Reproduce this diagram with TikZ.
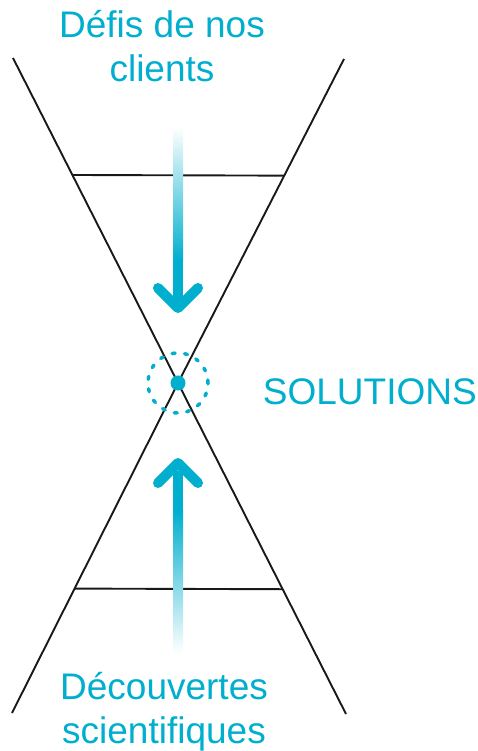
\documentclass[tikz,border=0pt]{standalone}
\usepackage{fontspec}
\setmainfont{Liberation Sans}
\usepackage{xcolor}
\usepackage{tikz}
\usetikzlibrary{calc, positioning}
\definecolor{SciCyan}{RGB}{0, 174, 206}

\begin{document}
\begin{tikzpicture}[
        x=1pt, y=1pt,
        cone/.style = {draw, line width=1.9pt, black!90},
        title/.style = {text=SciCyan, font=\fontsize{37}{44}\selectfont, align=center, inner sep=0pt},
        shaft/.style = {top color=white, bottom color=SciCyan, draw=none},
        chevron/.style = {draw=SciCyan, line width=10pt, line cap=round, line join=round},
        ring/.style = {draw=SciCyan, line width=3.5pt, dash pattern=on 3pt off 9.5pt, line cap=round},
        hub/.style = {circle, fill=SciCyan, minimum size=15pt, inner sep=0pt}
    ]
        \useasboundingbox (0,0) rectangle (477,751);

        % Hourglass
        \coordinate (c) at (178,368);
        \coordinate (tl) at (13,693);
        \coordinate (tr) at (344,692);
        \coordinate (bl) at (12,38);
        \coordinate (br) at (346,37);
        \draw [cone] (tl) -- (c) -- (br);
        \draw [cone] (tr) -- (c) -- (bl);
        \draw [cone] ($(tl)!0.36!(c)$) -- ($(tr)!0.36!(c)$);
        \draw [cone] ($(c)!0.623!(bl)$) -- ($(c)!0.623!(br)$);

        % Meeting point
        \draw [ring] (c) circle (30);
        \node (hub) [hub] at (c) {};
        \node (sol_text) [title, right=77pt of hub, yshift=-9pt] {SOLUTIONS};

        % Arrow from the top
        \coordinate (down_tip) at (178,443);
        \shade [shaft] (173,624) rectangle (183,490);
        \fill [SciCyan] (173,490.5) rectangle (183,450);
        \draw [chevron] ($(down_tip)+(-20,20)$) -- (down_tip) -- ($(down_tip)+(20,20)$);

        % Arrow from the bottom
        \coordinate (up_tip) at (178,288);
        \fill [SciCyan] (173,280) rectangle (183,240);
        \shade [shaft, top color=SciCyan, bottom color=white] (173,240.5) rectangle (183,98);
        \draw [chevron] ($(up_tip)+(-20,-20)$) -- (up_tip) -- ($(up_tip)+(20,-20)$);

        % Titles
        \node (top_text) [title, anchor=north] at (162,741) {Défis de nos\\clients};
        \node (bottom_text) [title, anchor=south] at (164,0) {Découvertes\\scientifiques};

    \end{tikzpicture}
\end{document}
